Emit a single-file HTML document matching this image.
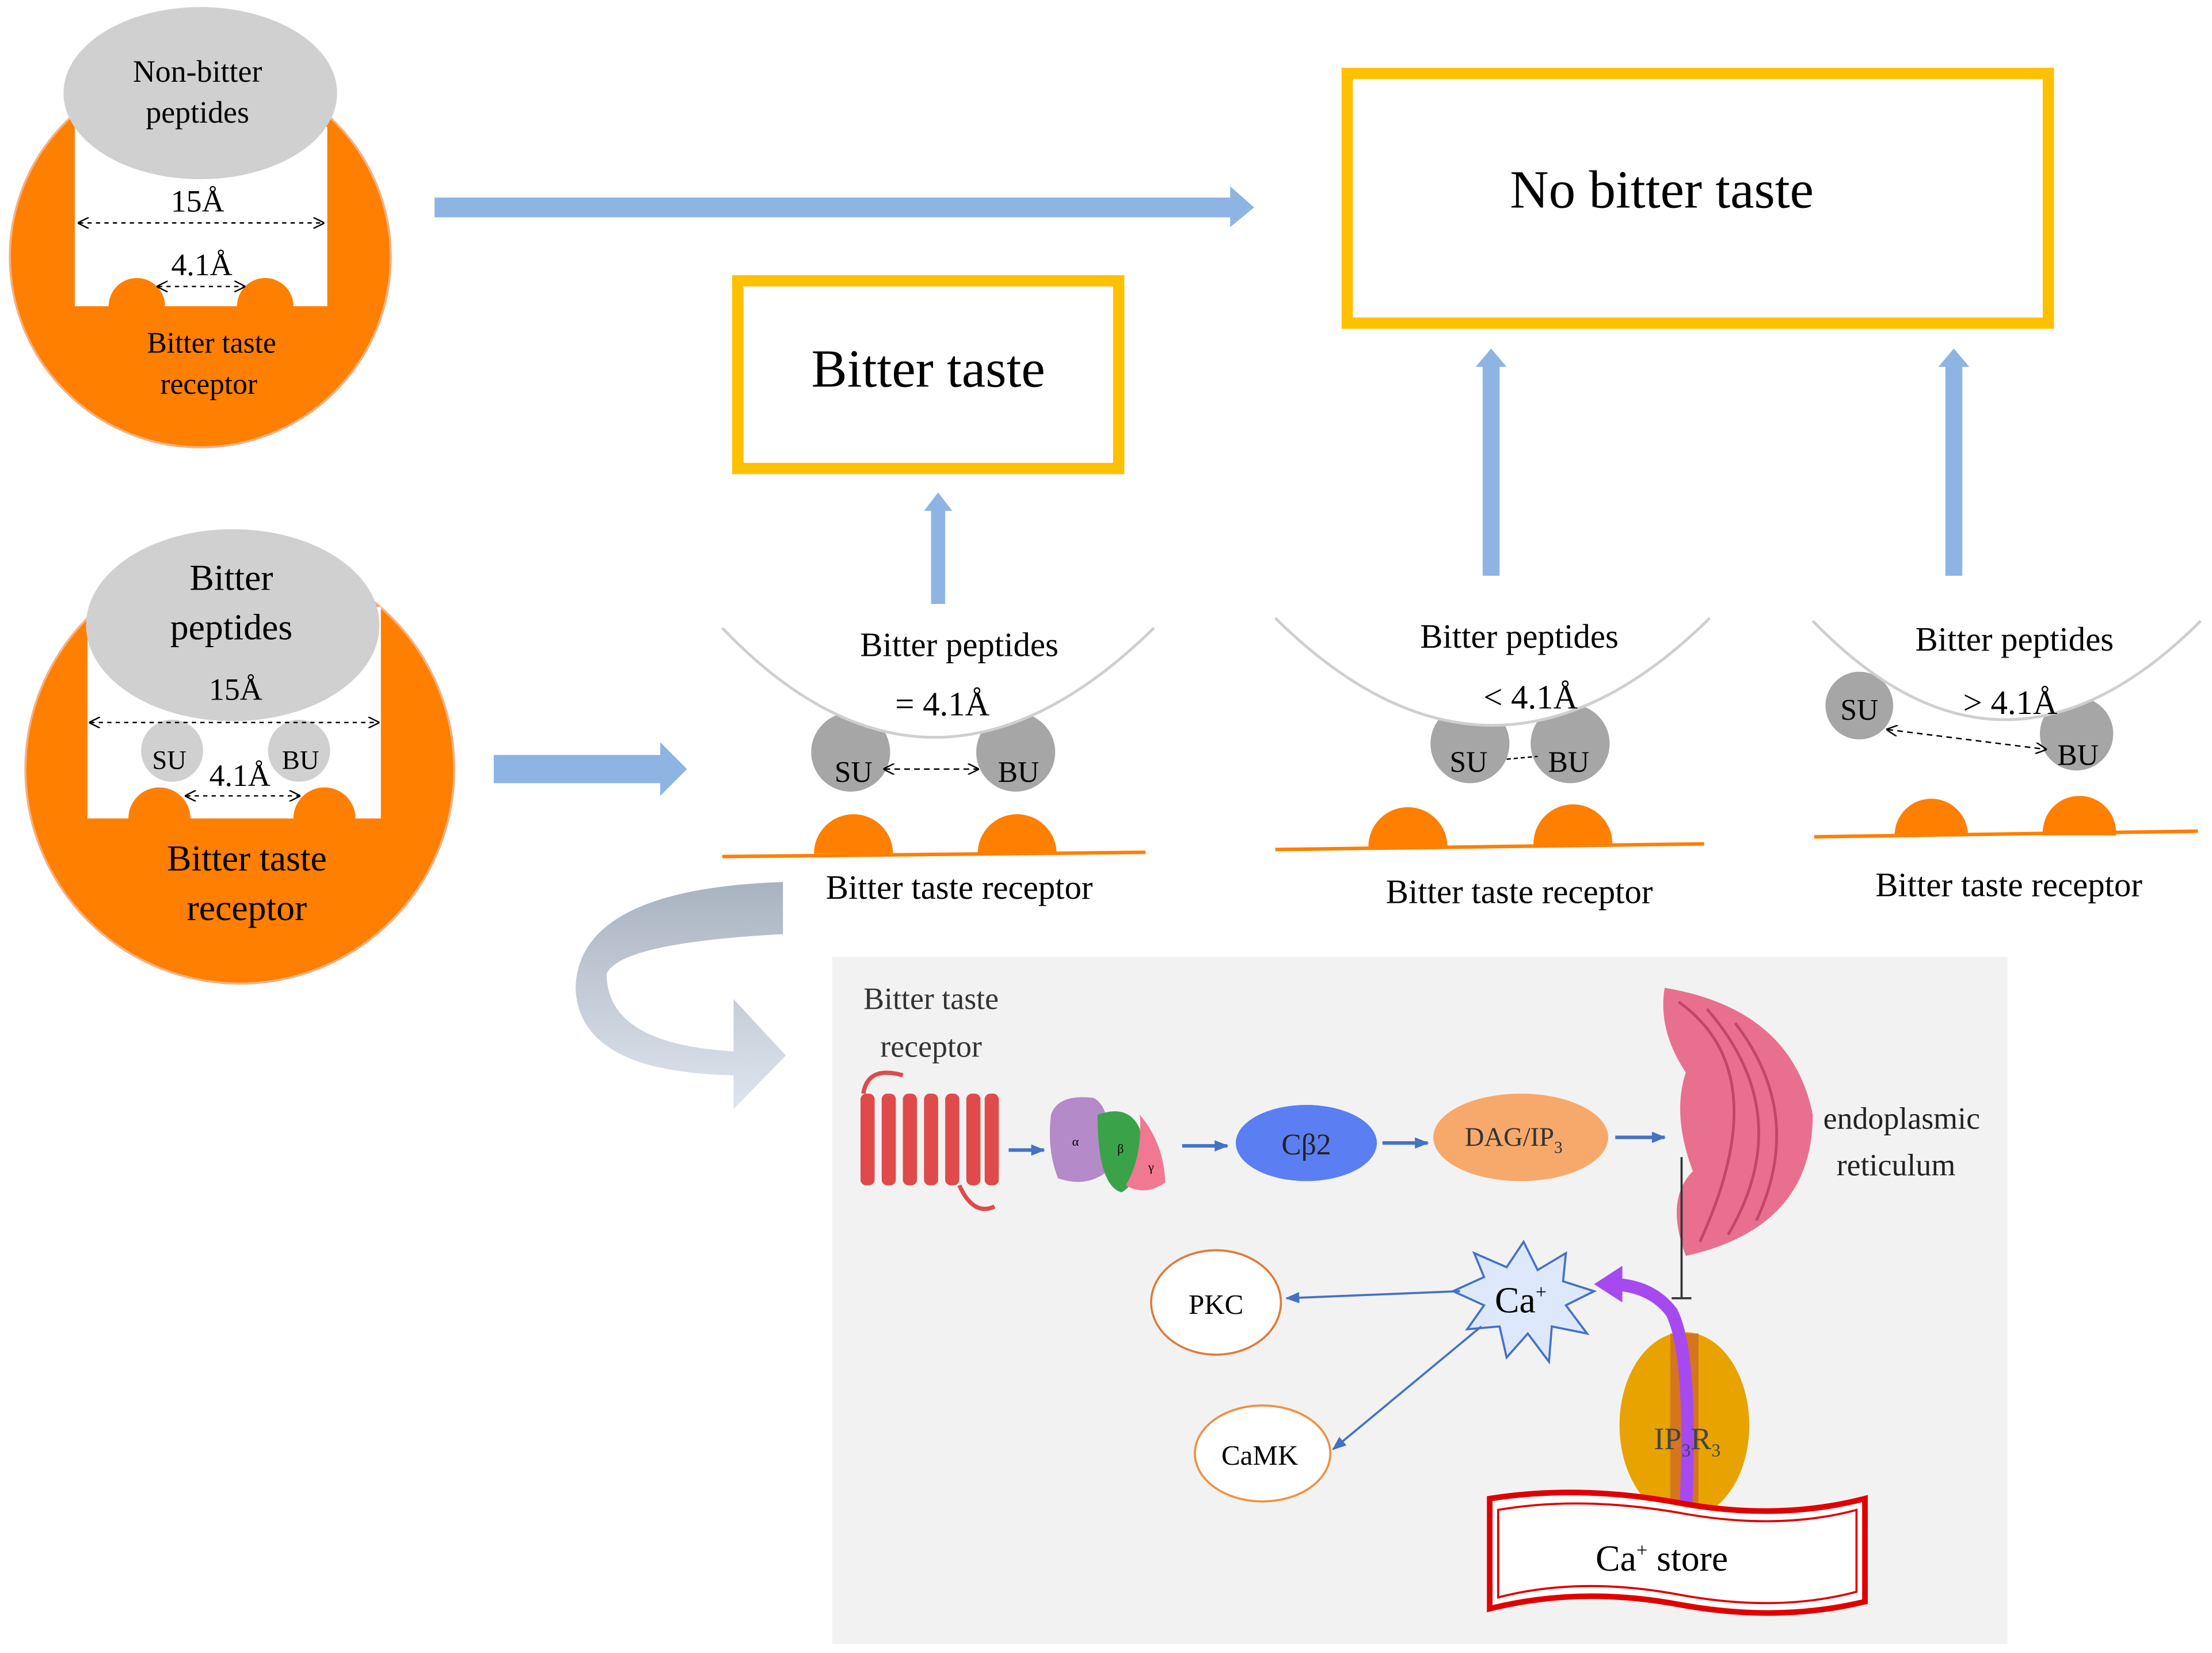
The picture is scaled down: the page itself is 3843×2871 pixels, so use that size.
<!DOCTYPE html>
<html><head><meta charset="utf-8"><style>html,body{margin:0;padding:0;background:#fff}svg{display:block}svg text{font-family:"Liberation Serif","DejaVu Serif",serif}</style></head><body>
<svg width="3843" height="2871" viewBox="0 0 1568 1171.4" xmlns="http://www.w3.org/2000/svg">
<defs>
<marker id="ah" markerWidth="8" markerHeight="8" refX="7" refY="4" orient="auto-start-reverse" markerUnits="userSpaceOnUse"><path d="M0,0 L8,4 L0,8" fill="none" stroke="#000" stroke-width="1"/></marker>
<marker id="bh" markerWidth="10" markerHeight="10" refX="9" refY="5" orient="auto" markerUnits="userSpaceOnUse"><path d="M0,1 L10,5 L0,9 z" fill="#4472c4"/></marker>
<linearGradient id="cg" x1="0" y1="0" x2="0" y2="1"><stop offset="0" stop-color="#a9b3c0"/><stop offset="1" stop-color="#dfe5ee"/></linearGradient>
</defs>
<!-- Top-left receptor -->
<circle cx="142" cy="182" r="135" fill="#ff7f00" stroke="#f4b183" stroke-width="1.5"/>
<rect x="53" y="90" width="179" height="127" fill="#fff"/>
<circle cx="97" cy="217" r="20" fill="#ff7f00"/><circle cx="188" cy="217" r="20" fill="#ff7f00"/>
<ellipse cx="142" cy="66" rx="97" ry="61" fill="#d0d0d0"/>
<text x="140" y="58" font-size="22" text-anchor="middle">Non-bitter</text>
<text x="140" y="87" font-size="22" text-anchor="middle">peptides</text>
<text x="140" y="150" font-size="22" text-anchor="middle">15Å</text>
<line x1="56" y1="158" x2="229" y2="158" stroke="#000" stroke-dasharray="3,3" marker-end="url(#ah)" marker-start="url(#ah)"/>
<text x="143" y="195" font-size="22" text-anchor="middle">4.1Å</text>
<line x1="112" y1="203" x2="173" y2="203" stroke="#000" stroke-dasharray="3,3" marker-end="url(#ah)" marker-start="url(#ah)"/>
<text x="150" y="250" font-size="21" text-anchor="middle">Bitter taste</text>
<text x="148" y="279" font-size="21" text-anchor="middle">receptor</text>
<!-- Second receptor -->
<circle cx="170" cy="545" r="152" fill="#ff7f00" stroke="#f4b183" stroke-width="1.5"/>
<rect x="62" y="430" width="208" height="150" fill="#fff"/>
<circle cx="113" cy="580" r="22" fill="#ff7f00"/><circle cx="230" cy="580" r="22" fill="#ff7f00"/>
<ellipse cx="165" cy="443" rx="104" ry="68" fill="#d0d0d0"/>
<circle cx="122" cy="532" r="22" fill="#d0d0d0"/><circle cx="212" cy="532" r="22" fill="#d0d0d0"/>
<text x="164" y="418" font-size="26" text-anchor="middle">Bitter</text>
<text x="164" y="453" font-size="26" text-anchor="middle">peptides</text>
<text x="167" y="496" font-size="22" text-anchor="middle">15Å</text>
<line x1="64" y1="512" x2="268" y2="512" stroke="#000" stroke-dasharray="3,3" marker-end="url(#ah)" marker-start="url(#ah)"/>
<text x="120" y="545" font-size="19" text-anchor="middle">SU</text>
<text x="213" y="545" font-size="19" text-anchor="middle">BU</text>
<text x="170" y="557" font-size="22" text-anchor="middle">4.1Å</text>
<line x1="132" y1="564" x2="212" y2="564" stroke="#000" stroke-dasharray="3,3" marker-end="url(#ah)" marker-start="url(#ah)"/>
<text x="175" y="617" font-size="26" text-anchor="middle">Bitter taste</text>
<text x="175" y="652" font-size="26" text-anchor="middle">receptor</text>
<!-- blue arrows -->
<path d="M308,140 L872,140 L872,132 L889,147 L872,161 L872,154 L308,154 z" fill="#8eb4e3"/>
<path d="M350,535 L468,535 L468,526 L487,545 L468,564 L468,555 L350,555 z" fill="#8eb4e3"/>
<path d="M660,428 L660,362 L655,362 L665,349 L675,362 L670,362 L670,428 z" fill="#8eb4e3"/>
<path d="M1051,408 L1051,260 L1046,260 L1057,247 L1068,260 L1063,260 L1063,408 z" fill="#8eb4e3"/>
<path d="M1379,408 L1379,260 L1374,260 L1385,247 L1396,260 L1391,260 L1391,408 z" fill="#8eb4e3"/>
<!-- boxes -->
<rect x="955" y="52" width="497" height="177" fill="#fff" stroke="#ffc000" stroke-width="8"/>
<text x="1178" y="147" font-size="38" text-anchor="middle">No bitter taste</text>
<rect x="523" y="199" width="270" height="133" fill="#fff" stroke="#ffc000" stroke-width="8"/>
<text x="658" y="274" font-size="38" text-anchor="middle">Bitter taste</text>
<!-- Panel 1 -->
<circle cx="603" cy="533" r="28" fill="#a6a6a6"/><circle cx="720" cy="533" r="28" fill="#a6a6a6"/>
<path d="M512,445 Q660,600 818,445" fill="#fff" stroke="none"/>
<path d="M512,445 Q660,600 818,445" fill="none" stroke="#cfcfcf" stroke-width="2"/>
<circle cx="605" cy="605" r="28" fill="#ff7f00"/><circle cx="721" cy="605" r="28" fill="#ff7f00"/>
<rect x="500" y="605" width="320" height="40" fill="#fff"/>
<line x1="512" y1="607" x2="812" y2="604" stroke="#ff7f00" stroke-width="2.5"/>
<text x="680" y="465" font-size="24" text-anchor="middle">Bitter peptides</text>
<text x="668" y="507" font-size="24" text-anchor="middle">= 4.1Å</text>
<text x="605" y="554" font-size="21" text-anchor="middle">SU</text>
<text x="722" y="554" font-size="21" text-anchor="middle">BU</text>
<line x1="627" y1="545" x2="693" y2="545" stroke="#000" stroke-dasharray="4,3" marker-end="url(#ah)" marker-start="url(#ah)"/>
<text x="680" y="637" font-size="24" text-anchor="middle">Bitter taste receptor</text>
<!-- Panel 2 -->
<circle cx="1042" cy="527" r="28" fill="#a6a6a6"/><circle cx="1113" cy="527" r="28" fill="#a6a6a6"/>
<path d="M904,438 Q1058,590 1212,438" fill="#fff" stroke="none"/>
<path d="M904,438 Q1058,590 1212,438" fill="none" stroke="#cfcfcf" stroke-width="2"/>
<circle cx="998" cy="600" r="28" fill="#ff7f00"/><circle cx="1115" cy="598" r="28" fill="#ff7f00"/>
<rect x="895" y="600" width="320" height="40" fill="#fff"/>
<line x1="904" y1="602" x2="1208" y2="598" stroke="#ff7f00" stroke-width="2.5"/>
<text x="1077" y="459" font-size="24" text-anchor="middle">Bitter peptides</text>
<text x="1085" y="502" font-size="24" text-anchor="middle">&lt; 4.1Å</text>
<text x="1041" y="547" font-size="21" text-anchor="middle">SU</text>
<text x="1112" y="547" font-size="21" text-anchor="middle">BU</text>
<line x1="1068" y1="538" x2="1090" y2="536" stroke="#000" stroke-dasharray="3,2"/>
<text x="1077" y="640" font-size="24" text-anchor="middle">Bitter taste receptor</text>
<!-- Panel 3 -->
<circle cx="1318" cy="500" r="24" fill="#a6a6a6"/><circle cx="1472" cy="520" r="26" fill="#a6a6a6"/>
<path d="M1285,440 Q1420,580 1560,440" fill="#fff" stroke="none"/>
<path d="M1285,440 Q1420,580 1560,440" fill="none" stroke="#cfcfcf" stroke-width="2"/>
<circle cx="1369" cy="592" r="26" fill="#ff7f00"/><circle cx="1474" cy="590" r="26" fill="#ff7f00"/>
<rect x="1280" y="592" width="288" height="40" fill="#fff"/>
<line x1="1286" y1="593" x2="1558" y2="589" stroke="#ff7f00" stroke-width="2.5"/>
<text x="1428" y="461" font-size="24" text-anchor="middle">Bitter peptides</text>
<text x="1425" y="506" font-size="24" text-anchor="middle">&gt; 4.1Å</text>
<text x="1318" y="510" font-size="21" text-anchor="middle">SU</text>
<text x="1473" y="542" font-size="21" text-anchor="middle">BU</text>
<line x1="1338" y1="517" x2="1450" y2="531" stroke="#000" stroke-dasharray="4,3" marker-end="url(#ah)" marker-start="url(#ah)"/>
<text x="1424" y="635" font-size="24" text-anchor="middle">Bitter taste receptor</text>
<!-- curved arrow -->
<path d="M555,625 L555,662 Q440,668 430,690 Q430,740 520,745 L520,708 L557,748 L520,786 L520,762 Q410,760 408,700 Q410,630 555,625 z" fill="url(#cg)"/>
<!-- bottom panel -->
<rect x="590" y="678" width="833" height="487" fill="#f2f2f2"/>
<text x="660" y="715" font-size="22" text-anchor="middle" fill="#333">Bitter taste</text>
<text x="660" y="749" font-size="22" text-anchor="middle" fill="#333">receptor</text>
<g fill="#e04a4a">
<rect x="610" y="775" width="10" height="65" rx="4"/><rect x="625" y="775" width="10" height="65" rx="4"/><rect x="640" y="775" width="10" height="65" rx="4"/><rect x="655" y="775" width="10" height="65" rx="4"/><rect x="670" y="775" width="10" height="65" rx="4"/><rect x="685" y="775" width="10" height="65" rx="4"/><rect x="698" y="775" width="10" height="65" rx="4"/>
</g>
<path d="M612,775 Q615,755 640,762 M680,840 Q690,862 705,855" fill="none" stroke="#e04a4a" stroke-width="3"/>
<line x1="715" y1="815" x2="740" y2="815" stroke="#4472c4" stroke-width="2.5" marker-end="url(#bh)"/>
<path d="M745,790 Q750,775 775,778 Q790,785 785,830 Q770,842 750,835 Q742,815 745,790z" fill="#b58ac8"/>
<path d="M778,790 Q800,782 808,800 Q812,835 795,845 Q778,840 778,790z" fill="#3aa34a"/>
<path d="M808,790 Q825,810 826,838 Q812,848 798,840 Q810,820 808,790z" fill="#f07891"/>
<text x="760" y="812" font-size="9">α</text><text x="792" y="817" font-size="9">β</text><text x="814" y="830" font-size="9">γ</text>
<line x1="838" y1="812" x2="870" y2="812" stroke="#4472c4" stroke-width="2.5" marker-end="url(#bh)"/>
<ellipse cx="926" cy="810" rx="50" ry="27" fill="#5b7ff2"/>
<text x="926" y="818" font-size="21" text-anchor="middle" fill="#222">Cβ2</text>
<line x1="980" y1="810" x2="1012" y2="810" stroke="#4472c4" stroke-width="2.5" marker-end="url(#bh)"/>
<ellipse cx="1078" cy="806" rx="62" ry="31" fill="#f7a96b"/>
<text x="1073" y="812" font-size="19" text-anchor="middle" fill="#333">DAG/IP<tspan font-size="12" dy="5">3</tspan></text>
<line x1="1145" y1="806" x2="1180" y2="806" stroke="#4472c4" stroke-width="2.5" marker-end="url(#bh)"/>
<path d="M1180,700 Q1270,715 1285,790 Q1285,870 1195,890 Q1180,850 1200,830 Q1185,790 1195,760 Q1175,730 1180,700z" fill="#e8708e"/>
<path d="M1190,710 Q1260,760 1205,880 M1210,715 Q1275,790 1225,875 M1230,725 Q1280,790 1245,865" fill="none" stroke="#c4456a" stroke-width="2"/>
<text x="1348" y="800" font-size="22" text-anchor="middle" fill="#222">endoplasmic</text>
<text x="1344" y="833" font-size="22" text-anchor="middle" fill="#222">reticulum</text>
<line x1="1192" y1="820" x2="1192" y2="920" stroke="#333" stroke-width="1.5"/>
<line x1="1185" y1="920" x2="1199" y2="920" stroke="#333" stroke-width="1.5"/>
<ellipse cx="862" cy="923" rx="46" ry="37" fill="#fff" stroke="#e07b39" stroke-width="1.5"/>
<text x="862" y="931" font-size="20" text-anchor="middle">PKC</text>
<ellipse cx="895" cy="1030" rx="48" ry="34" fill="#fff" stroke="#f09040" stroke-width="1.5"/>
<text x="893" y="1038" font-size="20" text-anchor="middle">CaMK</text>
<polygon points="1080,880 1090,900 1110,888 1108,908 1130,915 1110,925 1125,945 1100,940 1098,965 1083,945 1068,962 1063,940 1040,942 1052,925 1030,915 1052,905 1045,888 1068,898" fill="#dde8fb" stroke="#4472c4" stroke-width="1.5"/>
<text x="1078" y="930" font-size="26" text-anchor="middle">Ca<tspan font-size="14" dy="-10">+</tspan></text>
<line x1="1035" y1="915" x2="912" y2="920" stroke="#4472c4" stroke-width="1.5" marker-end="url(#bh)"/>
<line x1="1050" y1="940" x2="945" y2="1027" stroke="#4472c4" stroke-width="1.5" marker-end="url(#bh)"/>
<ellipse cx="1194" cy="1010" rx="46" ry="66" fill="#e8a300"/>
<rect x="1184" y="945" width="20" height="128" fill="#d4761e"/>
<path d="M1195,1070 Q1200,960 1185,930 Q1170,910 1140,910" fill="none" stroke="#a64af0" stroke-width="9"/>
<path d="M1130,910 L1150,897 L1150,923z" fill="#a64af0"/>
<text x="1196" y="1027" font-size="22" text-anchor="middle" fill="#444">IP<tspan font-size="13" dy="5">3</tspan><tspan dy="-5">R</tspan><tspan font-size="13" dy="5">3</tspan></text>
<path d="M1056,1062 Q1120,1052 1190,1065 Q1260,1078 1322,1062 L1322,1135 Q1260,1150 1190,1137 Q1120,1124 1056,1140 z" fill="#fff" stroke="#e00000" stroke-width="4"/>
<path d="M1062,1070 Q1120,1060 1190,1072 Q1260,1085 1316,1070 L1316,1128 Q1260,1143 1190,1130 Q1120,1117 1062,1132 z" fill="none" stroke="#e00000" stroke-width="1.5"/>
<text x="1178" y="1113" font-size="26" text-anchor="middle">Ca<tspan font-size="14" dy="-10">+</tspan><tspan dy="10"> store</tspan></text>
</svg>
</body></html>
